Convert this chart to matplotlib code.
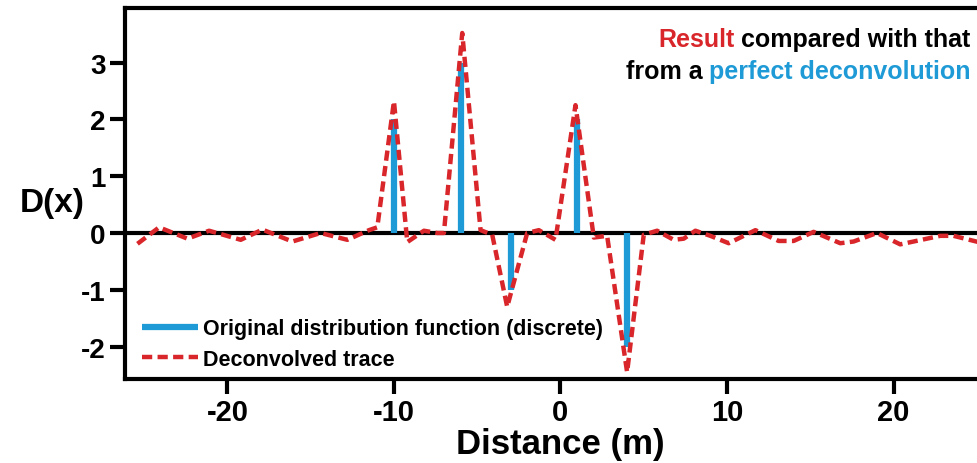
import matplotlib
matplotlib.use('Agg')
import matplotlib.pyplot as plt
import numpy as np

# discrete distribution (blue stems)
stem_x = [-10, -6, -3, 1, 4]
stem_d = [2, 3, -1, 2, -2]

# deconvolved trace (red dashed)
trace_x = [-25.4, -24.1, -22.4, -21.1, -19.2, -17.9, -16.1, -14.4, -12.8, -11.5,
           -11.0, -10.0, -9.2, -8.2, -7.4, -7.0, -5.9, -4.8, -4.1, -3.2,
           -2.0, -1.3, -0.3, 0.9, 2.0, 2.8, 4.0, 5.0, 5.8, 6.8,
           7.4, 8.1, 9.0, 10.1, 11.7, 13.1, 14.0, 15.2, 16.8, 17.6,
           19.0, 20.4, 21.2, 22.8, 23.6, 25.1, 26.0]
trace_d = [-0.19, 0.10, -0.10, 0.04, -0.12, 0.06, -0.15, 0.00, -0.12, 0.05,
           0.10, 2.32, -0.16, 0.04, 0.00, 0.00, 3.52, 0.05, -0.03, -1.30,
           0.00, 0.05, -0.12, 2.25, -0.08, -0.05, -2.45, -0.03, 0.04, -0.12,
           -0.10, 0.04, -0.05, -0.18, 0.05, -0.14, -0.14, 0.02, -0.18, -0.15,
           0.00, -0.20, -0.15, -0.05, -0.05, -0.16, -0.10]

x_ticks = [-20, -10, 0, 10, 20]
y_ticks = [-2, -1, 0, 1, 2, 3]

RED = '#d9262b'
BLUE = '#1e9ad6'

plt.rcParams['font.family'] = ['Liberation Sans', 'DejaVu Sans']
plt.rcParams['font.weight'] = 'bold'
plt.rcParams['axes.unicode_minus'] = False

fig = plt.figure(figsize=(9.78, 4.64), dpi=100)
ax = fig.add_axes([0.1278, 0.181, 0.8906, 0.7996])

ax.axhline(0, color='black', lw=3, zorder=1)
ax.vlines(stem_x, 0, stem_d, color=BLUE, lw=4.5, zorder=2,
          label='Original distribution function (discrete)')
ax.plot(trace_x, trace_d, color=RED, lw=3.2, ls=(0, (2.3, 1.2)), zorder=3,
        label='Deconvolved trace')

ax.set_xlim(-26.15, 26.15)
ax.set_ylim(-2.57, 3.96)
ax.set_xticks(x_ticks)
ax.set_yticks(y_ticks)

for s in ax.spines.values():
    s.set_linewidth(3)
ax.tick_params(direction='out', length=11, width=3)
ax.tick_params(axis='y', labelsize=20, pad=3)
ax.tick_params(axis='x', labelsize=21, pad=3)

ax.set_xlabel('Distance (m)', fontsize=25, fontweight='bold', va='center')
ax.xaxis.set_label_coords(0.5, -0.1725)
ax.set_ylabel('D(x)', fontsize=24, fontweight='bold', rotation=0,
              ha='center', va='center')
ax.yaxis.set_label_coords(-0.084, 0.477)

leg = ax.legend(loc='lower left', bbox_to_anchor=(0.0195, 0.025), frameon=False,
                fontsize=15.5, handlelength=2.6, handletextpad=0.25,
                labelspacing=0.45, borderpad=0, borderaxespad=0)
for t in leg.get_texts():
    t.set_fontweight('bold')

# two-coloured annotation, top right
t1 = ax.text(0.971, 0.898, 'compared with that', transform=ax.transAxes,
             ha='right', va='baseline', fontsize=18, color='black')
ax.annotate('Result', xy=(0, 0), xycoords=t1, xytext=(-5, 0),
            textcoords='offset points', ha='right', va='bottom',
            fontsize=18, color=RED)
t2 = ax.text(0.971, 0.812, 'perfect deconvolution', transform=ax.transAxes,
             ha='right', va='baseline', fontsize=18, color=BLUE)
ax.annotate('from a', xy=(0, 0), xycoords=t2, xytext=(-5, 0),
            textcoords='offset points', ha='right', va='bottom',
            fontsize=18, color='black')

fig.savefig('out.png', dpi=100)
plt.close(fig)
